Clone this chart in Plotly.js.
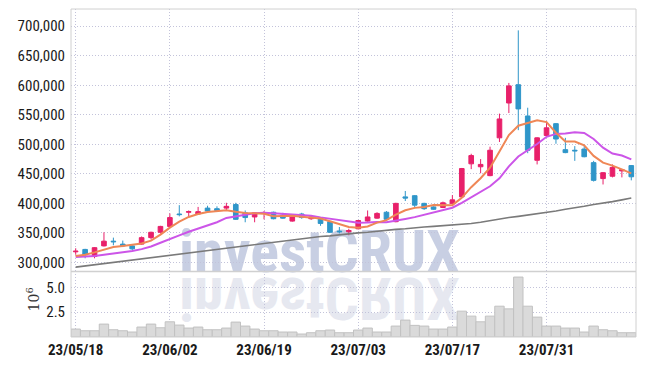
<!DOCTYPE html>
<html><head><meta charset="utf-8">
<script src="https://cdn.plot.ly/plotly-3.0.1.min.js"></script>
<style>html,body{margin:0;padding:0;background:#fff;}#chart{width:645px;height:366px;}</style>
</head><body><div id="chart"></div>
<script>
const dates = ['23/05/18','23/05/19','23/05/22','23/05/23','23/05/24','23/05/25','23/05/26','23/05/30','23/05/31','23/06/01',
  '23/06/02','23/06/05','23/06/07','23/06/08','23/06/09','23/06/12','23/06/13','23/06/14','23/06/15','23/06/16',
  '23/06/19','23/06/20','23/06/21','23/06/22','23/06/23','23/06/26','23/06/27','23/06/28','23/06/29','23/06/30',
  '23/07/03','23/07/04','23/07/05','23/07/06','23/07/07','23/07/10','23/07/11','23/07/12','23/07/13','23/07/14',
  '23/07/17','23/07/18','23/07/19','23/07/20','23/07/21','23/07/24','23/07/25','23/07/26','23/07/27','23/07/28',
  '23/07/31','23/08/01','23/08/02','23/08/03','23/08/04','23/08/07','23/08/08','23/08/09','23/08/10','23/08/11'];
const openP  = [318000,322000,310000,328000,336000,331000,328000,331000,342000,351000,
  361000,382000,385000,382000,392000,391000,392000,398000,384000,377000,
  383000,385000,380000,370000,382000,374000,375000,369000,353000,352000,
  357000,370000,375000,385000,369000,411000,413000,400000,394000,393000,
  400000,411000,467000,462000,447000,511000,570000,601000,548000,473000,
  515000,535000,491000,490000,492000,469000,442000,446000,455000,464000];
const highP  = [324000,323000,326000,351000,342000,337000,331000,344000,352000,362000,
  383000,397000,388000,394000,396000,395000,401000,401000,388000,385000,
  387000,386000,384000,379000,384000,379000,377000,370000,360000,357000,
  372000,388000,385000,387000,401000,421000,414000,401000,395000,403000,
  414000,460000,484000,475000,496000,552000,604000,693000,562000,512000,
  539000,536000,511000,497000,497000,472000,453000,466000,458000,465000];
const lowP   = [313000,307000,307000,327000,329000,326000,321000,330000,339000,349000,
  359000,378000,378000,381000,386000,386000,388000,372000,368000,368000,
  373000,373000,374000,369000,374000,372000,362000,350000,349000,346000,
  356000,369000,374000,372000,368000,404000,392000,389000,389000,392000,
  399000,410000,458000,451000,446000,504000,553000,524000,485000,466000,
  514000,501000,485000,472000,478000,437000,432000,444000,444000,439000];
const closeP = [319000,313000,325000,336000,335000,328000,323000,342000,351000,361000,
  376000,381000,386000,386000,387000,388000,395000,373000,376000,384000,
  384000,374000,375000,378000,376000,377000,366000,351000,352000,354000,
  371000,377000,383000,373000,400000,409000,397000,391000,390000,401000,
  406000,459000,481000,466000,490000,543000,599000,560000,490000,511000,
  528000,509000,486000,489000,479000,439000,452000,461000,457000,445000];
const ma5 = [311000,313000,317000,322000,326000,328000,329500,332000,337000,347000,
  359000,369000,377000,382000,385500,387000,388400,385800,383800,383200,
  382400,378200,378600,379000,377400,376000,374400,369600,364400,360000,
  358800,361000,367400,371600,380800,388400,392400,394000,397400,397600,
  397000,409400,427400,442600,460400,487800,515800,531600,536400,540600,
  537600,519600,504800,504600,498200,480400,469000,464000,457600,450800];
const ma10 = [309000,309500,311000,313000,315000,317000,319500,322500,327000,333300,
  339000,345800,351900,356900,362100,368100,375300,378400,380900,383200,
  384000,383300,382200,381400,380300,379200,376300,374100,371700,368700,
  367400,367700,368500,368000,370400,373600,376700,380700,384500,389200,
  392700,400900,410700,420000,429000,442400,462600,479500,489500,500500,
  512700,517700,518200,520500,519400,509000,494300,484400,481100,474500];
const maLong = [292000,294000,296000,298000,300000,302000,304000,306000,308000,310000,
  312000,314000,316000,318000,320000,323000,325000,327000,329000,331000,
  333000,335000,337000,339000,341000,342000,344000,345000,347000,348000,
  350000,351000,353000,354000,356000,357000,359000,360000,361000,362000,
  363000,364000,366000,368000,371000,373000,376000,378000,380000,382000,
  385000,387000,390000,392000,395000,398000,400000,403000,406000,409000];
const volumeM = [0.80,0.63,0.63,1.30,0.73,0.63,0.50,1.00,1.30,0.93,
  1.53,1.20,0.90,1.00,0.73,0.73,0.90,1.50,1.10,0.80,
  0.63,0.63,0.50,0.50,0.30,0.43,0.63,0.70,0.43,0.43,
  0.70,0.90,0.50,0.50,1.10,1.70,1.17,1.10,0.80,0.80,
  1.00,2.60,2.10,1.53,2.10,3.10,2.83,6.03,3.10,2.00,
  1.10,1.10,0.90,0.90,0.50,1.10,0.73,0.63,0.43,0.43];
const tickLabels = ['23/05/18','23/06/02','23/06/19','23/07/03','23/07/17','23/07/31'];
const priceTicks = [300000,350000,400000,450000,500000,550000,600000,650000,700000];
const volumeTicks = [2.5,5.0];
const volumeUnit = '10<sup>6</sup>';
const watermark = 'investCRUX';

const FONT = '"Liberation Sans Narrow", "Arial Narrow", "Roboto Condensed", sans-serif';
const gridColor = '#c3c3da';
const gridDash = '1px,2px';

const traces = [
  {type:'bar', x:dates, y:volumeM, xaxis:'x', yaxis:'y2',
   marker:{color:'#dadada', line:{color:'#c2c2c2', width:1}}, hoverinfo:'skip'},
  {type:'scatter', mode:'lines', x:dates, y:maLong, yaxis:'y',
   line:{color:'#7a7a7a', width:1.6}},
  {type:'scatter', mode:'lines', x:dates, y:ma10, yaxis:'y',
   line:{color:'#cc55e8', width:2}},
  {type:'scatter', mode:'lines', x:dates, y:ma5, yaxis:'y',
   line:{color:'#ef8756', width:2}},
  {type:'candlestick', x:dates, open:openP, high:highP, low:lowP, close:closeP, yaxis:'y',
   increasing:{line:{color:'#e8206a', width:1}, fillcolor:'#e8206a'},
   decreasing:{line:{color:'#2f96c9', width:1}, fillcolor:'#2f96c9'}}
];

const layout = {
  width:645, height:366,
  margin:{l:71, r:9, t:9, b:29},
  paper_bgcolor:'#ffffff', plot_bgcolor:'#ffffff',
  showlegend:false, hovermode:false,
  bargap:0, boxgap:0.3,
  font:{family:FONT, color:'#1a1a1a', size:15},
  xaxis:{type:'category', anchor:'y2', rangeslider:{visible:false},
    range:[-0.5, dates.length-0.5],
    tickmode:'array', tickvals:tickLabels, ticktext:tickLabels,
    showgrid:true, gridcolor:gridColor, griddash:gridDash, gridwidth:1,
    showline:false, zeroline:false, ticks:'', ticklabelstandoff:2,
    tickfont:{family:FONT, size:15, color:'#1a1a1a', weight:'bold'}},
  yaxis:{domain:[0.2,1], range:[284800,729200], tickmode:'array', tickvals:priceTicks,
    tickformat:',d', showgrid:true, gridcolor:gridColor, griddash:gridDash, gridwidth:1,
    zeroline:false, showline:false, ticks:'', ticklabelstandoff:5,
    tickfont:{family:FONT, size:15, color:'#1a1a1a'}},
  yaxis2:{domain:[0,0.2], range:[0,6.6], tickmode:'array', tickvals:volumeTicks,
    tickformat:'.1f', showgrid:true, gridcolor:gridColor, griddash:gridDash, gridwidth:1,
    zeroline:false, showline:false, ticks:'', ticklabelstandoff:5,
    tickfont:{family:FONT, size:15, color:'#1a1a1a'}},
  shapes:[
    {type:'rect', xref:'paper', yref:'paper', x0:0, x1:1, y0:0, y1:1, line:{color:'#d0d0d0', width:1}, layer:'above'},
    {type:'line', xref:'paper', yref:'paper', x0:0, x1:1, y0:0.2, y1:0.2, line:{color:'#d0d0d0', width:1.5}, layer:'above'}
  ],
  annotations:[
    {text:watermark, xref:'paper', yref:'paper', x:0.4407, y:0.262, xanchor:'center', yanchor:'middle',
     showarrow:false, font:{family:FONT, size:60, color:'#c8cfe3', weight:'bold'}},
    {text:watermark, xref:'paper', yref:'paper', x:0.4407, y:0.118, xanchor:'center', yanchor:'middle',
     showarrow:false, font:{family:FONT, size:60, color:'#e6e8f0', weight:'bold'}},
    {text:volumeUnit, xref:'paper', yref:'paper', x:-0.067, y:0.115, xanchor:'center', yanchor:'middle',
     textangle:-90, showarrow:false, font:{family:'"DejaVu Serif", serif', size:14, color:'#333'}}
  ]
};

Plotly.newPlot('chart', traces, layout, {displayModeBar:false, staticPlot:true}).then(function(gd){
  const anns = gd.querySelectorAll('.annotation');
  const below = gd.querySelector('.layer-below');
  anns.forEach(function(a, k){
    if (k > 1) return;
    if (k === 1) {
      const bb = a.getBBox();
      const cy = bb.y + bb.height/2;
      a.setAttribute('transform', 'translate(0,' + (2*cy) + ') scale(1,-1)');
    }
    if (below) below.appendChild(a);
  });
});
</script>
</body></html>
